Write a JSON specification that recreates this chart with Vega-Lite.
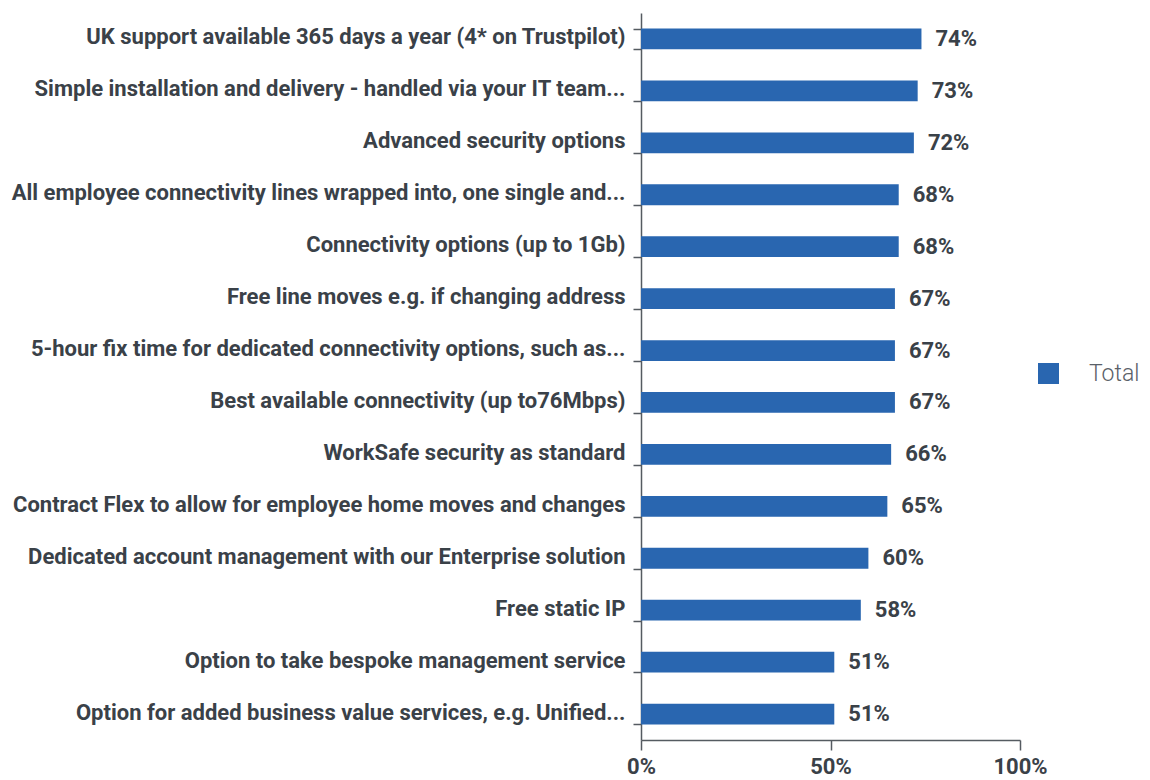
{
  "$schema": "https://vega.github.io/schema/vega-lite/v6.json",
  "width": 379,
  "height": 727,
  "autosize": {"type": "none"},
  "padding": {"left": 641, "top": 13, "right": 130, "bottom": 40},
  "background": "white",
  "config": {"view": {"stroke": null}},
  "data": {
    "values": [
      {"item": "UK support available 365 days a year (4* on Trustpilot)", "value": 0.74, "series": "Total"},
      {"item": "Simple installation and delivery - handled via your IT team...", "value": 0.73, "series": "Total"},
      {"item": "Advanced security options", "value": 0.72, "series": "Total"},
      {"item": "All employee connectivity lines wrapped into, one single and...", "value": 0.68, "series": "Total"},
      {"item": "Connectivity options (up to 1Gb)", "value": 0.68, "series": "Total"},
      {"item": "Free line moves e.g. if changing address", "value": 0.67, "series": "Total"},
      {"item": "5-hour fix time for dedicated connectivity options, such as...", "value": 0.67, "series": "Total"},
      {"item": "Best available connectivity (up to76Mbps)", "value": 0.67, "series": "Total"},
      {"item": "WorkSafe security as standard", "value": 0.66, "series": "Total"},
      {"item": "Contract Flex to allow for employee home moves and changes", "value": 0.65, "series": "Total"},
      {"item": "Dedicated account management with our Enterprise solution", "value": 0.60, "series": "Total"},
      {"item": "Free static IP", "value": 0.58, "series": "Total"},
      {"item": "Option to take bespoke management service", "value": 0.51, "series": "Total"},
      {"item": "Option for added business value services, e.g. Unified...", "value": 0.51, "series": "Total"}
    ]
  },
  "encoding": {
    "y": {
      "field": "item",
      "type": "nominal",
      "sort": null,
      "title": null,
      "scale": {"paddingInner": 0.6, "paddingOuter": 0.3},
      "axis": {
        "tickBand": "extent",
        "tickSize": 8,
        "tickColor": "#555b61",
        "tickWidth": 1.5,
        "domainColor": "#555b61",
        "domainWidth": 1.5,
        "labelFont": "Roboto",
        "labelFontWeight": "bold",
        "labelFontSize": 22,
        "labelColor": "#3a4148",
        "labelPadding": 8,
        "labelOffset": -2,
        "labelLimit": 700
      }
    },
    "x": {
      "field": "value",
      "type": "quantitative",
      "title": null,
      "scale": {"domain": [0, 1]},
      "axis": {
        "values": [0, 0.5, 1],
        "format": ".0%",
        "grid": false,
        "labelFlush": false,
        "tickSize": 10,
        "tickColor": "#555b61",
        "tickWidth": 1.5,
        "domainColor": "#555b61",
        "domainWidth": 1.5,
        "labelFont": "Roboto",
        "labelFontWeight": "bold",
        "labelFontSize": 22,
        "labelColor": "#3a4148",
        "labelPadding": 6
      }
    }
  },
  "layer": [
    {
      "mark": {"type": "bar"},
      "encoding": {
        "color": {
          "field": "series",
          "type": "nominal",
          "scale": {"range": ["#2966b0"]},
          "legend": {
            "title": null,
            "orient": "none",
            "legendX": 396,
            "legendY": 349,
            "symbolType": "square",
            "symbolSize": 440,
            "symbolStrokeWidth": 0,
            "labelFont": "Roboto",
            "labelFontWeight": 300,
            "labelFontSize": 23,
            "labelColor": "#5a6068",
            "labelOffset": 29
          }
        }
      }
    },
    {
      "mark": {
        "type": "text",
        "align": "left",
        "baseline": "middle",
        "dx": 14,
        "font": "Roboto",
        "fontWeight": "bold",
        "fontSize": 22,
        "color": "#3a4148"
      },
      "encoding": {
        "text": {"field": "value", "type": "quantitative", "format": ".0%"}
      }
    }
  ]
}
